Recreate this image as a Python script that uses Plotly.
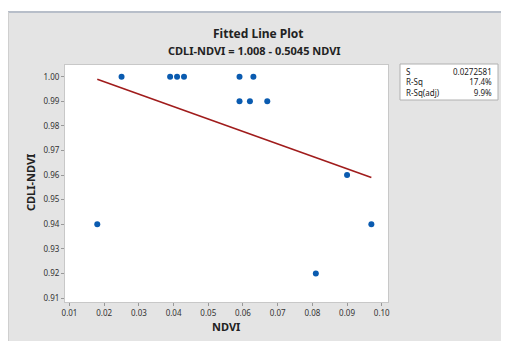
import plotly.graph_objects as go

# Data
ndvi = [0.018, 0.025, 0.039, 0.041, 0.043, 0.059, 0.063, 0.059, 0.062, 0.067, 0.090, 0.081, 0.097]
cdli_ndvi = [0.94, 1.00, 1.00, 1.00, 1.00, 1.00, 1.00, 0.99, 0.99, 0.99, 0.96, 0.92, 0.94]
intercept = 1.008
slope = -0.5045
x_ticks = [0.01, 0.02, 0.03, 0.04, 0.05, 0.06, 0.07, 0.08, 0.09, 0.10]
y_ticks = [0.91, 0.92, 0.93, 0.94, 0.95, 0.96, 0.97, 0.98, 0.99, 1.00]
stat_labels = ["S", "R-Sq", "R-Sq(adj)"]
stat_values = ["0.0272581", "17.4%", "9.9%"]

# page is rendered with an 8px body margin
OX, OY = 8, 8
PW, PH = 509, 341
W, H = PW - OX, PH - OY
# plot area in page pixels
L, R, T, B = 65, 388, 65, 302

def px(xp):
    return (xp - L) / (R - L)

def py(yp):
    return (B - yp) / (B - T)

FONT = "Noto Sans"

fit_x = [min(ndvi), max(ndvi)]
fit_y = [intercept + slope * v for v in fit_x]

fig = go.Figure()
fig.add_trace(go.Scatter(x=fit_x, y=fit_y, mode="lines",
                         line=dict(color="#a01c1c", width=1.6), showlegend=False))
fig.add_trace(go.Scatter(x=ndvi, y=cdli_ndvi, mode="markers",
                         marker=dict(color="#0a5bb0", size=6), showlegend=False))

shapes = [
    # white strip above gray panel
    dict(type="rect", xref="paper", yref="paper", x0=px(0), x1=px(PW + 5), y0=py(11), y1=py(0),
         fillcolor="white", line=dict(width=0), layer="above"),
    # top border line
    dict(type="line", xref="paper", yref="paper", x0=px(8), x1=px(PW + 5), y0=py(12), y1=py(12),
         line=dict(color="#b7bec9", width=2), layer="above"),
    # left border line
    dict(type="line", xref="paper", yref="paper", x0=px(8.5), x1=px(8.5), y0=py(12), y1=py(PH + 5),
         line=dict(color="#cfcfcf", width=1), layer="above"),
    # stats box
    dict(type="rect", xref="paper", yref="paper", x0=px(400), x1=px(498), y0=py(64), y1=py(100),
         fillcolor="white", line=dict(color="#b0b0b0", width=1), layer="above"),
]

annotations = [
    dict(text="<b>Fitted Line Plot</b>", xref="paper", yref="paper", x=px(258), y=py(33),
         showarrow=False, font=dict(family=FONT, size=12, color="#222"), xanchor="center", yanchor="middle"),
    dict(text="<b>CDLI-NDVI = 1.008 - 0.5045 NDVI</b>", xref="paper", yref="paper", x=px(254), y=py(50),
         showarrow=False, font=dict(family=FONT, size=11, color="#222"), xanchor="center", yanchor="middle"),
    dict(text="<b>NDVI</b>", xref="paper", yref="paper", x=px(226), y=py(326),
         showarrow=False, font=dict(family=FONT, size=11, color="#222"), xanchor="center", yanchor="middle"),
    dict(text="<b>CDLI-NDVI</b>", xref="paper", yref="paper", x=px(30), y=py(183), textangle=-90,
         showarrow=False, font=dict(family=FONT, size=11, color="#222"), xanchor="center", yanchor="middle"),
    dict(text="<br>".join(stat_labels), xref="paper", yref="paper", x=px(404), y=py(81.5),
         showarrow=False, align="left", font=dict(family=FONT, size=8, color="#222"),
         xanchor="left", yanchor="middle"),
    dict(text="<br>".join(stat_values), xref="paper", yref="paper", x=px(494), y=py(81.5),
         showarrow=False, align="right", font=dict(family=FONT, size=8, color="#222"),
         xanchor="right", yanchor="middle"),
]

fig.update_layout(
    width=W, height=H,
    margin=dict(l=L - OX, r=PW - R, t=T - OY, b=PH - B, pad=0),
    paper_bgcolor="#e4e4e4",
    plot_bgcolor="white",
    shapes=shapes,
    annotations=annotations,
    font=dict(family=FONT, size=8, color="#333"),
)
fig.update_xaxes(range=[0.0087, 0.1018], tickvals=x_ticks, tickformat=".2f",
                 showgrid=False, zeroline=False, showline=True, mirror=True,
                 linecolor="#c8c8c8", linewidth=1, ticks="outside", ticklen=3,
                 tickcolor="#999", tickfont=dict(family=FONT, size=8, color="#333"))
fig.update_yaxes(range=[0.9084, 1.00476], tickvals=y_ticks, tickformat=".2f",
                 showgrid=False, zeroline=False, showline=True, mirror=True,
                 linecolor="#c8c8c8", linewidth=1, ticks="outside", ticklen=3,
                 tickcolor="#999", tickfont=dict(family=FONT, size=8, color="#333"))

fig.write_html("out.html")
